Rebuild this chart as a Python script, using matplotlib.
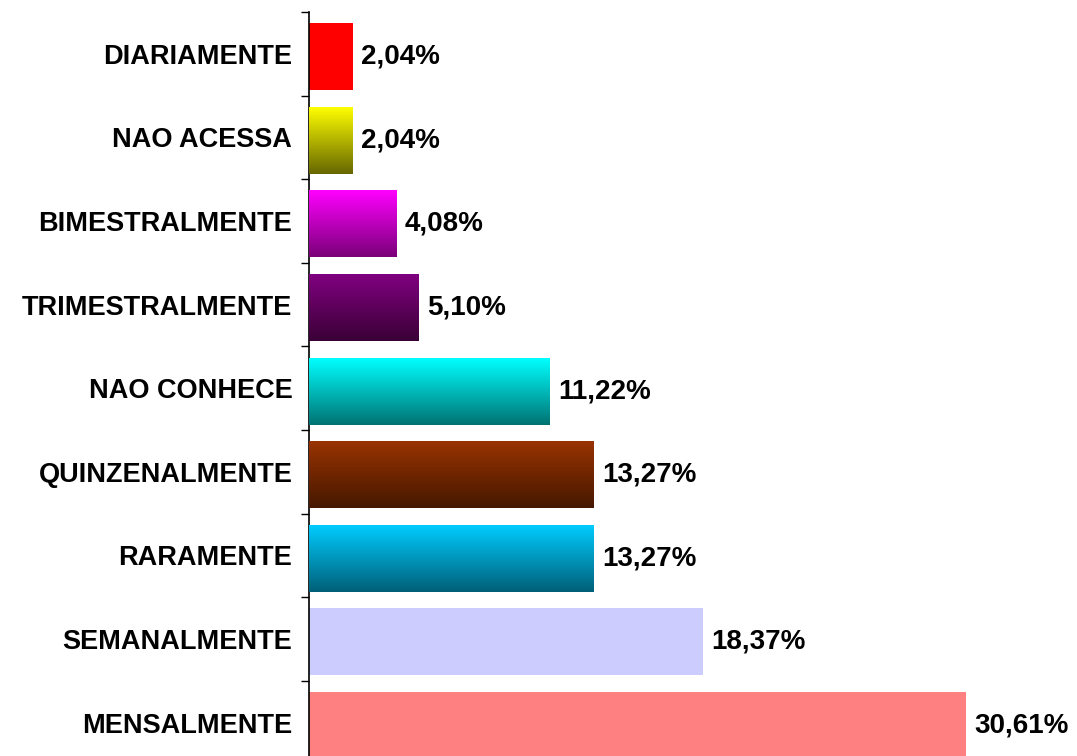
import matplotlib
matplotlib.use("Agg")
import matplotlib.pyplot as plt
import numpy as np
from matplotlib.colors import LinearSegmentedColormap

categories = ["MENSALMENTE", "SEMANALMENTE", "RARAMENTE", "QUINZENALMENTE",
              "NAO CONHECE", "TRIMESTRALMENTE", "BIMESTRALMENTE", "NAO ACESSA",
              "DIARIAMENTE"]
values = [30.61, 18.37, 13.27, 13.27, 11.22, 5.10, 4.08, 2.04, 2.04]
labels = ["30,61%", "18,37%", "13,27%", "13,27%", "11,22%", "5,10%", "4,08%",
          "2,04%", "2,04%"]
top_colors = ["#FF8080", "#CCCCFF", "#00CCFF", "#993300", "#00FFFF",
              "#800080", "#FF00FF", "#FFFF00", "#FF0000"]
bottom_colors = ["#FF8080", "#CCCCFF", "#005F78", "#451800", "#007272",
                 "#3A0036", "#7A0078", "#666600", "#FF0000"]

plt.rcParams['font.family'] = ['Liberation Sans', 'DejaVu Sans']

W, H = 1077, 756
fig = plt.figure(figsize=(W / 100, H / 100), dpi=100)
xmax = 35.0
px_per_unit = 21.45
left = 309 / W
width = xmax * px_per_unit / W
step = 83.6
top_px = 12
n = len(categories)
bottom_px = top_px + step * n
ax = fig.add_axes([left, (H - bottom_px) / H, width, (bottom_px - top_px) / H])

y = np.arange(n)
bar_y = y - 0.035
bars = ax.barh(bar_y, values, height=0.8, color=top_colors, edgecolor='none', zorder=2)

grad = np.linspace(0, 1, 256).reshape(-1, 1)
for bar, c0, c1 in zip(bars, top_colors, bottom_colors):
    if c0 == c1:
        continue
    cmap = LinearSegmentedColormap.from_list("g", [c0, c1])
    x0, y0 = bar.get_x(), bar.get_y()
    w, h = bar.get_width(), bar.get_height()
    im = ax.imshow(grad, cmap=cmap, aspect='auto',
                   extent=(x0, x0 + w, y0, y0 + h), origin='upper', zorder=3)
    im.set_clip_path(bar)

for yi, v, lab in zip(bar_y, values, labels):
    ax.text(v + 0.4, yi, lab, va='center', ha='left', fontsize=20,
            fontweight='bold', color='black', zorder=4)

ax.set_xlim(0, xmax)
ax.set_ylim(-0.5, n - 0.5)
ax.set_yticks(np.arange(n + 1) - 0.5)
ax.set_yticklabels([])
ax.set_yticks(y, minor=True)
ax.set_yticklabels(categories, minor=True, fontsize=19.5, fontweight='bold')
ax.tick_params(axis='y', which='major', direction='out', length=6, width=1)
ax.tick_params(axis='y', which='minor', length=0, pad=12)
ax.set_xticks([])
for s in ['top', 'right', 'bottom']:
    ax.spines[s].set_visible(False)
ax.spines['left'].set_linewidth(1.2)

fig.savefig("out.png", dpi=100)
